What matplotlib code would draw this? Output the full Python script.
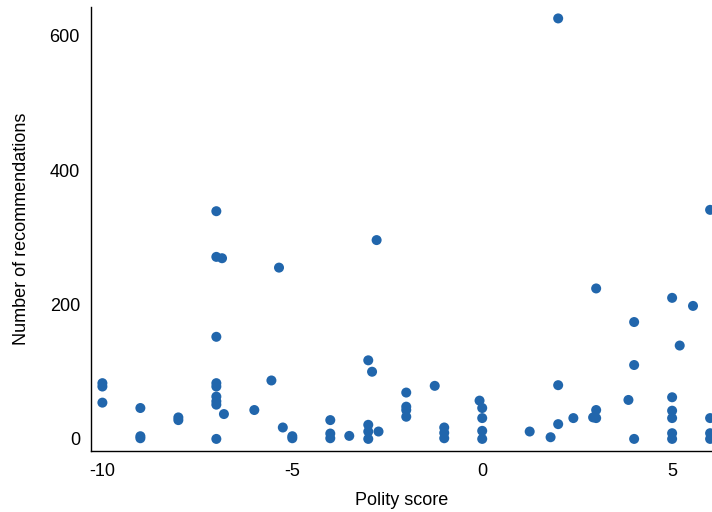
import matplotlib
matplotlib.use('Agg')
import matplotlib.pyplot as plt

# Polity score vs number of recommendations
polity = [
    -10, -10, -10,
    -9, -9, -9,
    -8, -8,
    -7, -7, -7, -7, -7, -7, -7, -7, -7,
    -6.85, -6.8, -6, -5.55, -5.35, -5.25, -5, -5,
    -4, -4, -4, -3.5,
    -3, -3, -3, -3, -2.9, -2.78, -2.73,
    -2, -2, -2, -2, -1.25,
    -1, -1, -1, -0.07,
    0, 0, 0, 0,
    1.25, 1.8, 2, 2, 2, 2.4,
    3, 3, 3, 2.92, 3.85,
    4, 4, 4,
    5, 5, 5, 5, 5, 5, 5.2, 5.55,
    6, 6, 6, 6,
]
recommendations = [
    83, 78, 54,
    46, 4, 1,
    32, 28,
    339, 271, 152, 83, 78, 63, 56, 51, 0,
    269, 37, 43, 87, 255, 17, 4, 1,
    28, 8, 1, 4.5,
    117, 21, 11, 0, 100, 296, 11,
    69, 48, 43, 33, 79,
    17, 9, 1, 57,
    46, 31, 12, 0,
    11, 2.5, 626, 80, 22, 31,
    224, 43, 31, 32, 58,
    174, 110, 0,
    210, 62, 42, 31, 8.5, 0, 139, 198,
    341, 31, 8.5, 0,
]

X_TICKS = [-10, -5, 0, 5]
Y_TICKS = [0, 200, 400, 600]
POINT_COLOR = '#2166ac'
FONT_SIZE = 13

plt.rcParams['font.family'] = ['Liberation Sans', 'DejaVu Sans']

fig = plt.figure(figsize=(7.12, 5.12), dpi=100)
ax = fig.add_axes([91 / 712, 61 / 512, 621 / 712, 444 / 512])

ax.scatter(polity, recommendations, s=52, c=POINT_COLOR, edgecolors='none',
           zorder=3)

ax.set_xlim(-10.3, 6.05)
ax.set_ylim(-18, 643)
ax.set_xticks(X_TICKS)
ax.set_xticklabels([str(t) for t in X_TICKS])
ax.set_yticks(Y_TICKS)

ax.spines['top'].set_visible(False)
ax.spines['right'].set_visible(False)
for side in ('left', 'bottom'):
    ax.spines[side].set_linewidth(1.0)
    ax.spines[side].set_color('black')

ax.tick_params(axis='both', length=0, labelsize=FONT_SIZE, colors='black')
ax.tick_params(axis='y', pad=8)
ax.tick_params(axis='x', pad=9)

ax.set_xlabel('Polity score', fontsize=FONT_SIZE, labelpad=8)
ax.set_ylabel('Number of recommendations', fontsize=FONT_SIZE, labelpad=14)

fig.savefig('out.png', dpi=100)
